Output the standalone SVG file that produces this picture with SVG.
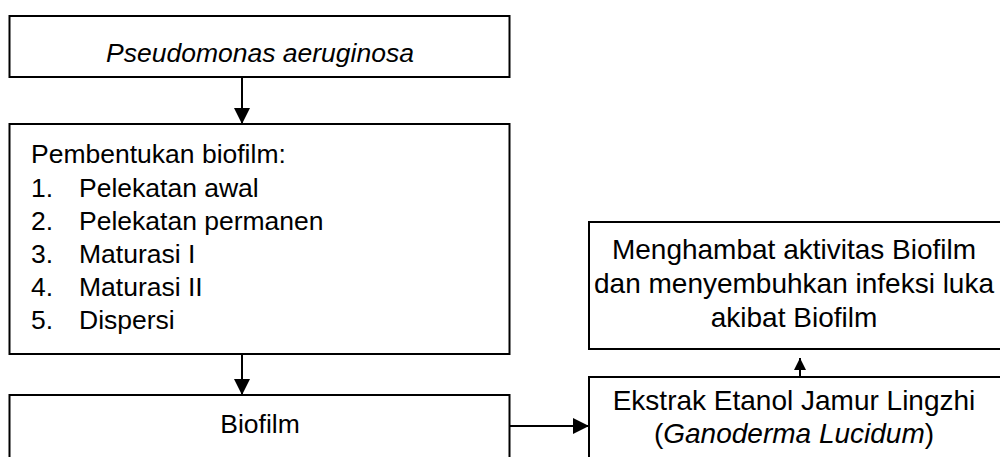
<svg xmlns="http://www.w3.org/2000/svg" width="1000" height="457" viewBox="0 0 1000 457">
<style>
.box{fill:#fff;stroke:#000;stroke-width:2}
.t{font-family:"Liberation Sans",Arial,sans-serif;fill:#000}
.l{font-size:26.5px}
.r{font-size:28px;text-anchor:middle}
.c{text-anchor:middle}
.conn{stroke:#000;stroke-width:2;fill:none}
</style>
<defs>
<marker id="ah" markerUnits="userSpaceOnUse" markerWidth="16" markerHeight="16" viewBox="0 0 16 16" refX="16" refY="8" orient="auto">
<path d="M0,0 L16,8 L0,16 Z" fill="#000"/>
</marker>
<marker id="ahs" markerUnits="userSpaceOnUse" markerWidth="12" markerHeight="12" viewBox="0 0 12 12" refX="12" refY="6" orient="auto">
<path d="M0,0 L12,6 L0,12 Z" fill="#000"/>
</marker>
</defs>
<rect width="1000" height="457" fill="#fff"/>
<g id="connectors">
<line class="conn" x1="242" y1="77" x2="242" y2="124" marker-end="url(#ah)"/>
<line class="conn" x1="242" y1="354" x2="242" y2="395" marker-end="url(#ah)"/>
<line class="conn" x1="510" y1="426" x2="589" y2="426" marker-end="url(#ah)"/>
<line class="conn" x1="800" y1="377" x2="800" y2="358" marker-end="url(#ahs)"/>
</g>
<g id="node-pseudomonas">
<rect class="box" x="9.5" y="16" width="500" height="61"/>
<text class="t l c" x="260" y="62" font-style="italic">Pseudomonas aeruginosa</text>
</g>
<g id="node-pembentukan">
<rect class="box" x="9.5" y="124" width="500" height="230"/>
<text class="t l" x="31" y="163">Pembentukan biofilm:</text>
<text class="t l" x="31" y="197">1.</text><text class="t l" x="79" y="197">Pelekatan awal</text>
<text class="t l" x="31" y="230">2.</text><text class="t l" x="79" y="230">Pelekatan permanen</text>
<text class="t l" x="31" y="263">3.</text><text class="t l" x="79" y="263">Maturasi I</text>
<text class="t l" x="31" y="296">4.</text><text class="t l" x="79" y="296">Maturasi II</text>
<text class="t l" x="31" y="329">5.</text><text class="t l" x="79" y="329">Dispersi</text>
</g>
<g id="node-biofilm">
<rect class="box" x="9.5" y="395" width="500" height="80"/>
<text class="t l c" x="260" y="433">Biofilm</text>
</g>
<g id="node-menghambat">
<rect class="box" x="589" y="222" width="430" height="127"/>
<text class="t r" x="794" y="259">Menghambat aktivitas Biofilm</text>
<text class="t r" x="794" y="293">dan menyembuhkan infeksi luka</text>
<text class="t r" x="794" y="327">akibat Biofilm</text>
</g>
<g id="node-ekstrak">
<rect class="box" x="589" y="377" width="430" height="100"/>
<text class="t r" x="794" y="410">Ekstrak Etanol Jamur Lingzhi</text>
<text class="t r" x="794" y="443">(<tspan font-style="italic">Ganoderma Lucidum</tspan>)</text>
</g>
</svg>
